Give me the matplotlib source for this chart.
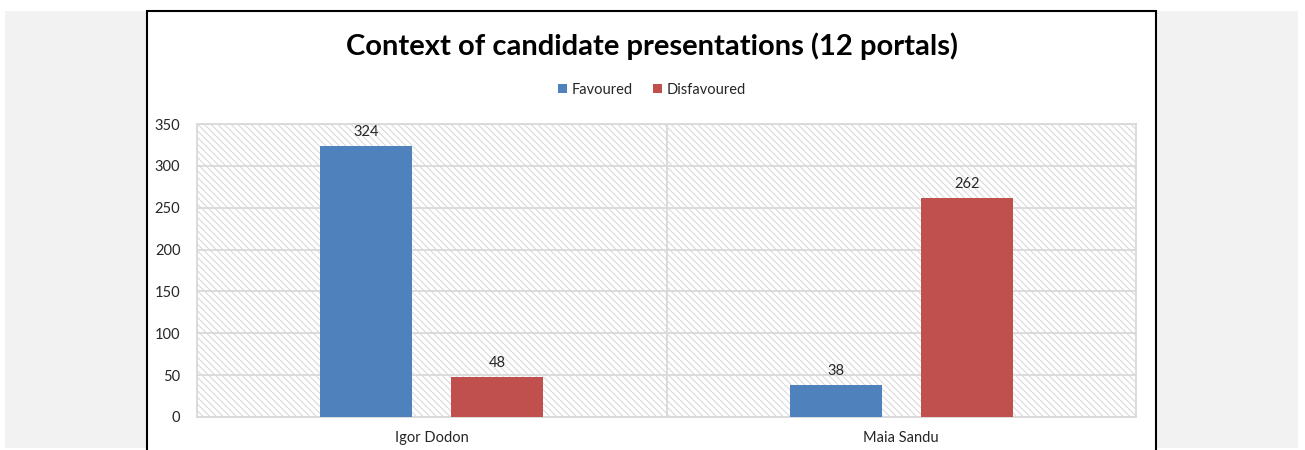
import matplotlib
matplotlib.use("Agg")
import matplotlib.pyplot as plt
import numpy as np
from matplotlib.patches import Rectangle

plt.rcParams['font.family'] = ['Lato', 'DejaVu Sans']
plt.rcParams['hatch.linewidth'] = 0.8
plt.rcParams['hatch.color'] = '#dadada'

candidates = ["Igor Dodon", "Maia Sandu"]
favoured = [324, 38]
disfavoured = [48, 262]
series_names = ["Favoured", "Disfavoured"]
colors = ["#4f81bd", "#c0504d"]

W, H = 1305, 450
fig = plt.figure(figsize=(W / 100, H / 100), dpi=100)
fig.patch.set_facecolor("white")

# gray page behind the chart card
fig.patches.append(Rectangle((5 / W, 1 - 448 / H), (1298 - 5) / W, (448 - 11) / H,
                             transform=fig.transFigure, facecolor="#f2f2f2",
                             edgecolor="none", zorder=0))
# white card with black border (bottom edge runs off the image)
fig.patches.append(Rectangle((147 / W, -0.05), (1156 - 147) / W, 1 - 11 / H + 0.05,
                             transform=fig.transFigure, facecolor="white",
                             edgecolor="black", linewidth=1.5, zorder=1))

ax = fig.add_axes([197 / W, 1 - 417 / H, (1136 - 197) / W, (417 - 124) / H])
ax.set_zorder(3)
ax.set_facecolor("none")
ax.add_patch(Rectangle((0, 0), 1, 1, transform=ax.transAxes, facecolor="white",
                       edgecolor="#dadada", hatch="\\" * 5, linewidth=0, zorder=0))

x = np.arange(len(candidates))
width = 0.196
offset = 0.14
b1 = ax.bar(x - offset, favoured, width, color=colors[0], label=series_names[0], zorder=3)
b2 = ax.bar(x + offset, disfavoured, width, color=colors[1], label=series_names[1], zorder=3)

for bars, vals in ((b1, favoured), (b2, disfavoured)):
    for bar, v in zip(bars, vals):
        ax.text(bar.get_x() + bar.get_width() / 2, v + 8, str(v), ha="center",
                va="bottom", fontsize=10.5, color="#262626", zorder=4)

ax.set_xlim(-0.5, 1.5)
ax.set_ylim(0, 350)
ax.set_yticks(np.arange(0, 351, 50))
ax.set_xticks(x)
ax.set_xticklabels(candidates)
ax.tick_params(axis="both", length=0, labelsize=10.5, labelcolor="#262626")
ax.tick_params(axis="y", pad=12)
ax.tick_params(axis="x", pad=10)
ax.grid(axis="y", color="#d9d9d9", linewidth=1.3, zorder=1)
ax.axvline(0.5, color="#d9d9d9", linewidth=1.3, zorder=1)
ax.set_axisbelow(True)
for s in ax.spines.values():
    s.set_color("#d9d9d9")
    s.set_linewidth(1.3)

fig.text(651.5 / W, 1 - 46 / H, "Context of candidate presentations (12 portals)",
         ha="center", va="center", fontsize=21, fontweight="bold", color="black",
         zorder=4)

leg = fig.legend(handles=[b1, b2], labels=series_names, loc="center",
                 bbox_to_anchor=(652 / W, 1 - 90 / H), ncol=2, frameon=False,
                 fontsize=10.5, handlelength=0.6, handleheight=0.6, handletextpad=0.3,
                 columnspacing=1.4, labelcolor="#262626")
leg.set_zorder(4)

fig.savefig("out.png", dpi=100)
